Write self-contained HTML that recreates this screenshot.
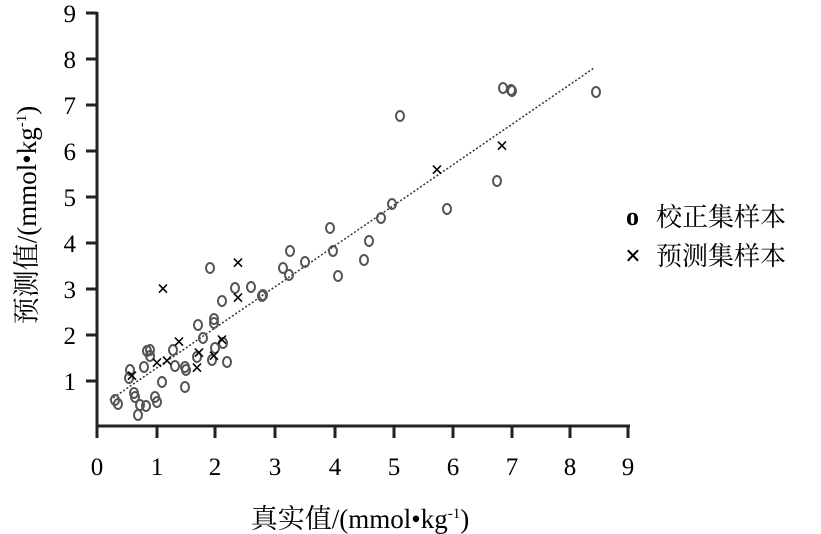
<!DOCTYPE html>
<html><head><meta charset="utf-8"><style>
html,body{margin:0;padding:0;background:#fff;width:821px;height:534px;overflow:hidden}
text{font-family:"Liberation Serif","Noto Serif CJK SC",serif;fill:#000}
</style></head><body>
<svg width="821" height="534" viewBox="0 0 821 534" xmlns="http://www.w3.org/2000/svg">
<g stroke="#222" stroke-width="3" fill="none">
<line x1="97" y1="12" x2="97" y2="427"/>
<line x1="96" y1="426" x2="630" y2="426"/>
<line x1="86" y1="13" x2="97" y2="13"/><line x1="86" y1="59" x2="97" y2="59"/>
<line x1="86" y1="105" x2="97" y2="105"/><line x1="86" y1="151" x2="97" y2="151"/>
<line x1="86" y1="197" x2="97" y2="197"/><line x1="86" y1="243" x2="97" y2="243"/>
<line x1="86" y1="289" x2="97" y2="289"/><line x1="86" y1="335" x2="97" y2="335"/>
<line x1="86" y1="381" x2="97" y2="381"/>
<line x1="97" y1="426" x2="97" y2="438"/><line x1="157" y1="426" x2="157" y2="438"/>
<line x1="215" y1="426" x2="215" y2="438"/><line x1="275" y1="426" x2="275" y2="438"/>
<line x1="335" y1="426" x2="335" y2="438"/><line x1="394" y1="426" x2="394" y2="438"/>
<line x1="453" y1="426" x2="453" y2="438"/><line x1="512" y1="426" x2="512" y2="438"/>
<line x1="570" y1="426" x2="570" y2="438"/><line x1="628" y1="426" x2="628" y2="438"/>
</g>
<g font-size="25" text-anchor="end">
<text x="76" y="22">9</text><text x="76" y="68">8</text><text x="76" y="114">7</text>
<text x="76" y="160">6</text><text x="76" y="206">5</text><text x="76" y="252">4</text>
<text x="76" y="298">3</text><text x="76" y="344">2</text><text x="76" y="390">1</text>
</g>
<g font-size="25" text-anchor="middle">
<text x="97" y="475">0</text><text x="157" y="475">1</text><text x="215" y="475">2</text>
<text x="275" y="475">3</text><text x="335" y="475">4</text><text x="394" y="475">5</text>
<text x="453" y="475">6</text><text x="512" y="475">7</text><text x="570" y="475">8</text>
<text x="628" y="475">9</text>
</g>
<text x="360" y="528" font-size="27" text-anchor="middle">真实值/(mmol•kg<tspan font-size="15" dy="-10">-1</tspan><tspan dy="10">)</tspan></text>
<text transform="translate(36,215) rotate(-90)" font-size="27" text-anchor="middle">预测值/(mmol•kg<tspan font-size="15" dy="-10">-1</tspan><tspan dy="10">)</tspan></text>
<line x1="110" y1="400" x2="594" y2="68" stroke="#333" stroke-width="1.5" stroke-dasharray="2,2"/>
<g fill="none" stroke="#555" stroke-width="2">
<ellipse cx="503" cy="88" rx="4" ry="5"/><ellipse cx="511" cy="90" rx="4" ry="5"/><ellipse cx="512" cy="91" rx="4" ry="5"/>
<ellipse cx="596" cy="92" rx="4" ry="5"/><ellipse cx="400" cy="116" rx="4" ry="5"/><ellipse cx="497" cy="181" rx="4" ry="5"/>
<ellipse cx="447" cy="209" rx="4" ry="5"/><ellipse cx="392" cy="204" rx="4" ry="5"/><ellipse cx="381" cy="218" rx="4" ry="5"/>
<ellipse cx="369" cy="241" rx="4" ry="5"/><ellipse cx="364" cy="260" rx="4" ry="5"/><ellipse cx="338" cy="276" rx="4" ry="5"/>
<ellipse cx="330" cy="228" rx="4" ry="5"/><ellipse cx="333" cy="251" rx="4" ry="5"/><ellipse cx="290" cy="251" rx="4" ry="5"/>
<ellipse cx="283" cy="268" rx="4" ry="5"/><ellipse cx="289" cy="275" rx="4" ry="5"/><ellipse cx="305" cy="262" rx="4" ry="5"/>
<ellipse cx="262" cy="296" rx="4" ry="5"/><ellipse cx="210" cy="268" rx="4" ry="5"/><ellipse cx="235" cy="288" rx="4" ry="5"/>
<ellipse cx="251" cy="287" rx="4" ry="5"/><ellipse cx="222" cy="301" rx="4" ry="5"/><ellipse cx="198" cy="325" rx="4" ry="5"/>
<ellipse cx="214" cy="319" rx="4" ry="5"/><ellipse cx="214" cy="323" rx="4" ry="5"/><ellipse cx="203" cy="338" rx="4" ry="5"/>
<ellipse cx="147" cy="351" rx="4" ry="5"/><ellipse cx="150" cy="356" rx="4" ry="5"/><ellipse cx="144" cy="367" rx="4" ry="5"/>
<ellipse cx="173" cy="350" rx="4" ry="5"/><ellipse cx="175" cy="366" rx="4" ry="5"/><ellipse cx="185" cy="367" rx="4" ry="5"/>
<ellipse cx="186" cy="370" rx="4" ry="5"/><ellipse cx="197" cy="357" rx="4" ry="5"/><ellipse cx="215" cy="348" rx="4" ry="5"/>
<ellipse cx="223" cy="343" rx="4" ry="5"/><ellipse cx="227" cy="362" rx="4" ry="5"/><ellipse cx="212" cy="360" rx="4" ry="5"/>
<ellipse cx="130" cy="370" rx="4" ry="5"/><ellipse cx="129" cy="378" rx="4" ry="5"/><ellipse cx="162" cy="382" rx="4" ry="5"/>
<ellipse cx="185" cy="387" rx="4" ry="5"/><ellipse cx="115" cy="400" rx="4" ry="5"/><ellipse cx="118" cy="404" rx="4" ry="5"/>
<ellipse cx="134" cy="393" rx="4" ry="5"/><ellipse cx="135" cy="397" rx="4" ry="5"/><ellipse cx="140" cy="405" rx="4" ry="5"/>
<ellipse cx="146" cy="406" rx="4" ry="5"/><ellipse cx="138" cy="415" rx="4" ry="5"/><ellipse cx="155" cy="397" rx="4" ry="5"/>
<ellipse cx="157" cy="402" rx="4" ry="5"/><ellipse cx="150" cy="350" rx="4" ry="5"/><ellipse cx="263" cy="295" rx="4" ry="5"/>
</g>
<g font-size="22" text-anchor="middle" font-family="Liberation Sans" font-weight="bold">
<text x="163" y="296">×</text><text x="238" y="270">×</text><text x="238" y="305">×</text>
<text x="437" y="177">×</text><text x="502" y="153">×</text><text x="179" y="349">×</text>
<text x="222" y="347">×</text><text x="157" y="370">×</text><text x="167" y="368">×</text>
<text x="197" y="375">×</text><text x="199" y="360">×</text><text x="214" y="363">×</text>
<text x="132" y="383">×</text>
</g>
<text x="626" y="225" font-size="26" font-family="Liberation Sans" font-weight="bold">o</text>
<text x="656" y="226" font-size="26">校正集样本</text>
<text x="625" y="265" font-size="28" font-family="Liberation Sans" font-weight="bold">×</text>
<text x="656" y="265" font-size="26">预测集样本</text>
</svg>
</body></html>
